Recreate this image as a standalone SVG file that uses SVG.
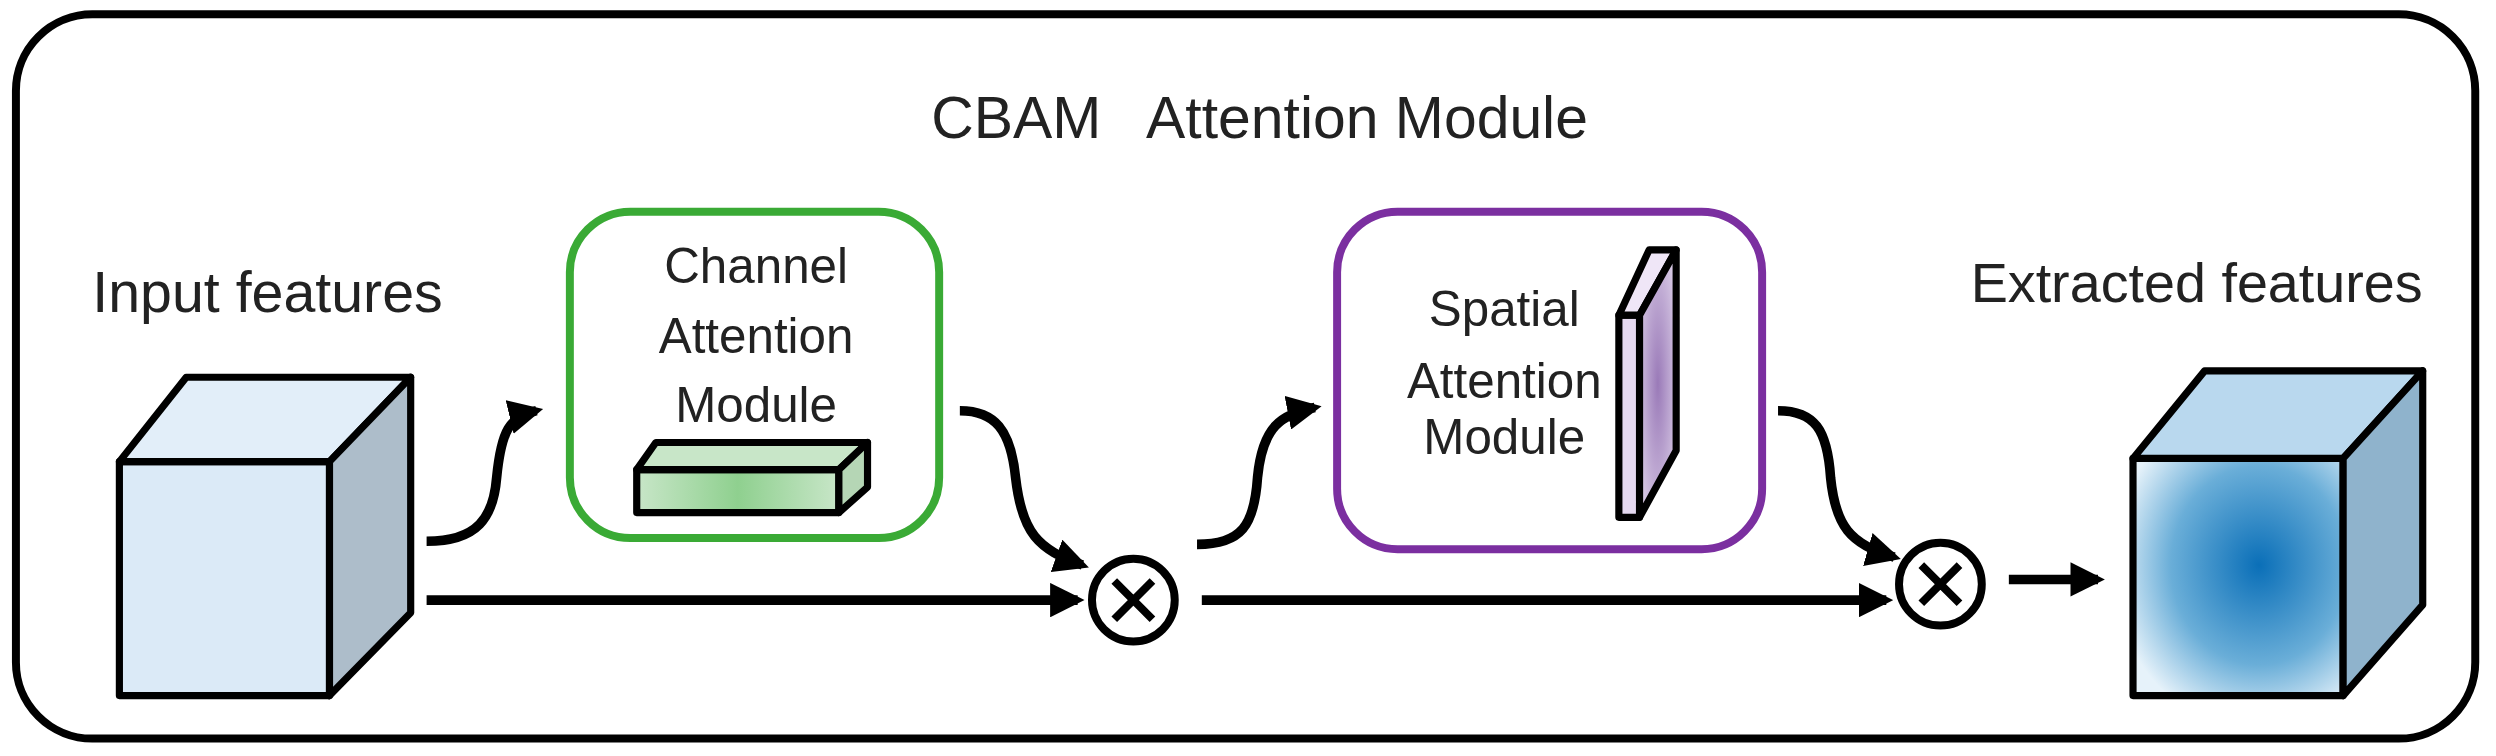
<svg xmlns="http://www.w3.org/2000/svg" width="2496" height="756" viewBox="0 0 2496 756">
<defs>
<style>
.t{font-family:"Liberation Sans",Arial,sans-serif;fill:#222}
.c{stroke:#000;stroke-width:4.5;stroke-linejoin:round}
.ln{fill:none;stroke:#000;stroke-width:6}
</style>
<marker id="ah" viewBox="0 0 10 10" refX="8" refY="5" markerWidth="3.6" markerHeight="3.6" orient="auto" markerUnits="strokeWidth"><path d="M0,0 L10,5 L0,10 Z" fill="#000"/></marker>
<linearGradient id="gbar" x1="0" x2="1"><stop offset="0" stop-color="#c8e6c8"/><stop offset="0.5" stop-color="#8fd08f"/><stop offset="1" stop-color="#c8e6c8"/></linearGradient>
<radialGradient id="pslab" cx="0.5" cy="0.5" r="0.6"><stop offset="0" stop-color="#9a7ab8"/><stop offset="1" stop-color="#d9cbe6"/></radialGradient>
<radialGradient id="blue" cx="0.6" cy="0.45" r="0.7"><stop offset="0" stop-color="#0a6fb8"/><stop offset="0.6" stop-color="#6aaed8"/><stop offset="1" stop-color="#e6f2fa"/></radialGradient>
</defs>
<g transform="scale(1.5918)">
<rect x="10" y="9" width="1545" height="455" rx="48" fill="#fff" stroke="#000" stroke-width="5"/>
<text class="t" x="585" y="87" font-size="37">CBAM</text>
<text class="t" x="720" y="87" font-size="37">Attention Module</text>

<g id="input">
<text class="t" x="58" y="196" font-size="36">Input features</text>
<polygon class="c" points="75,290 207,290 207,437 75,437" fill="#dbeaf7"/>
<polygon class="c" points="75,290 117,237 258,237 207,290" fill="#e2eef9"/>
<polygon class="c" points="207,290 258,237 258,385 207,437" fill="#adbdca"/>
</g>

<g id="channel">
<rect x="358" y="133" width="232" height="205" rx="38" fill="#fff" stroke="#3aaa35" stroke-width="5"/>
<text class="t" font-size="31" text-anchor="middle"><tspan x="475" y="178">Channel</tspan><tspan x="475" y="222">Attention</tspan><tspan x="475" y="265">Module</tspan></text>
<polygon class="c" points="400,295 527,295 527,322 400,322" fill="url(#gbar)"/>
<polygon class="c" points="400,295 412,278 545,278 527,295" fill="#c8e6c8"/>
<polygon class="c" points="527,295 545,278 545,306 527,322" fill="#b5d6b5"/>
</g>

<g id="spatial">
<rect x="840" y="133" width="267" height="212" rx="38" fill="#fff" stroke="#7b2fa0" stroke-width="5"/>
<text class="t" font-size="31" text-anchor="middle"><tspan x="945" y="205">Spatial</tspan><tspan x="945" y="250">Attention</tspan><tspan x="945" y="285">Module</tspan></text>
<polygon class="c" points="1017,198 1030,198 1030,325 1017,325" fill="#e5d9f0"/>
<polygon class="c" points="1017,198 1036,157 1053,157 1030,198" fill="#efe6f7"/>
<polygon class="c" points="1030,198 1053,157 1053,283 1030,325" fill="url(#pslab)"/>
</g>

<g id="mul1">
<circle cx="712" cy="377" r="26" fill="#fff" stroke="#000" stroke-width="5"/>
<path d="M700,365 L724,389 M724,365 L700,389" stroke="#000" stroke-width="5"/>
</g>
<g id="mul2">
<circle cx="1219" cy="367" r="26" fill="#fff" stroke="#000" stroke-width="5"/>
<path d="M1207,355 L1231,379 M1231,355 L1207,379" stroke="#000" stroke-width="5"/>
</g>

<g id="output">
<text class="t" x="1238" y="190" font-size="35">Extracted features</text>
<polygon class="c" points="1340,288 1472,288 1472,437 1340,437" fill="url(#blue)"/>
<polygon class="c" points="1340,288 1385,233 1522,233 1472,288" fill="#b9d8ee"/>
<polygon class="c" points="1472,288 1522,233 1522,380 1472,437" fill="#8fb3cc"/>
</g>

<g id="connectors">
<path class="ln" d="M268,340 C300,340 310,325 312,300 C315,270 320,262 337,258" marker-end="url(#ah)"/>
<path class="ln" d="M268,377 L677,377" marker-end="url(#ah)"/>
<path class="ln" d="M603,258 C625,258 635,270 638,300 C642,335 652,345 680,355" marker-end="url(#ah)"/>
<path class="ln" d="M752,342 C780,342 788,330 790,300 C793,268 805,260 826,256" marker-end="url(#ah)"/>
<path class="ln" d="M755,377 L1185,377" marker-end="url(#ah)"/>
<path class="ln" d="M1117,258 C1140,258 1148,270 1150,300 C1153,330 1162,342 1190,350" marker-end="url(#ah)"/>
<path class="ln" d="M1262,364 L1318,364" marker-end="url(#ah)"/>
</g>
</g>
</svg>
